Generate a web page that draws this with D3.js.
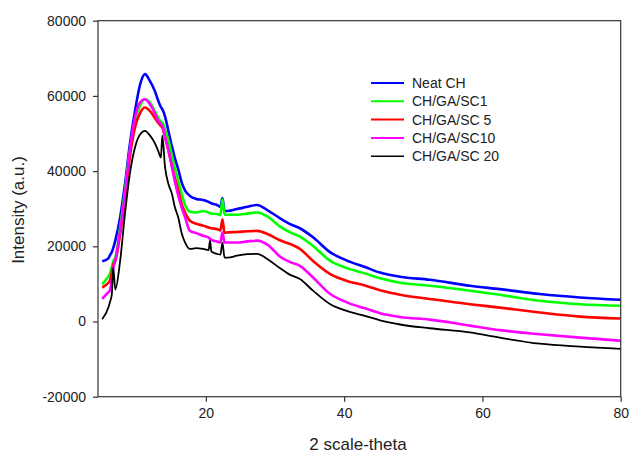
<!DOCTYPE html>
<html>
<head>
<meta charset="utf-8">
<script src="https://cdn.jsdelivr.net/npm/d3@7"></script>
<style>
  body { margin: 0; background: #fff; }
  svg text { font-family: "Liberation Sans", Arial, sans-serif; fill: #222; }
</style>
</head>
<body>
<div id="chart"></div>
<script>

// 2-theta positions shared by every pattern
var theta = [5.0, 5.9, 6.1, 6.4, 6.6, 6.9, 7.6, 8.3, 9.0, 9.75, 10.5, 11.2, 11.9, 12.6, 13.1, 13.5, 13.7, 14.1,
  14.6, 15.1, 15.5, 16.0, 16.5, 17.0, 17.7, 18.6, 19.6, 20.4, 20.6, 20.8, 21.6, 22.1, 22.4, 22.7, 23.2, 24.5,
  26.0, 27.4, 29.0, 30.7, 32.2, 33.6, 35.5, 38.0, 40.4, 43.0, 45.2, 48.1, 52.4, 58.2, 62.5, 68.3, 74.1, 80]

// intensities
var neat_ch = [16000, 16800, 17500, 18500, 19500, 21500, 27700, 36500, 47000, 56000, 63100, 65800, 64000, 61400,
  58800, 57000, 56500, 54500, 50500, 46500, 43600, 40500, 37000, 34800, 33400, 32600, 32300, 31800, 31600, 31400,
  31000, 30500, 32800, 29400, 29400, 29900, 30500, 31000, 29500, 27500, 25900, 24800, 22400, 18400, 16200, 14500,
  13000, 11900, 11100, 9500, 8600, 7300, 6400, 5800]
var sc1 = [9900, 12000, 12600, 14500, 16000, 17000, 25000, 34800, 45400, 53400, 57500, 59100, 58300, 56000, 54300,
  53200, 52900, 51000, 48100, 44000, 41000, 37500, 33900, 31000, 29200, 29000, 29400, 29000, 28800, 28700, 28600,
  28300, 32500, 28400, 28400, 28400, 28700, 29000, 27800, 25300, 23700, 22600, 20100, 16100, 14200, 12800, 11500,
  10300, 9500, 8200, 7100, 5500, 4600, 4200]
var sc5 = [9000, 10300, 10800, 13000, 15000, 16100, 23200, 32100, 43600, 51600, 55500, 56900, 56000, 54200, 52900,
  52000, 51600, 49000, 45400, 41300, 38300, 35000, 31200, 29000, 26800, 26000, 25500, 25000, 24900, 24800, 24600,
  24200, 27200, 23600, 23700, 23800, 24000, 24100, 23200, 21600, 20600, 19300, 16100, 12600, 10800, 9600, 8300,
  7100, 6000, 4600, 3700, 2400, 1300, 800]
var sc10 = [6000, 7800, 8200, 11000, 14000, 16100, 24100, 33900, 45400, 54300, 58300, 59100, 57800, 55500, 53400,
  52500, 52100, 49000, 45400, 41000, 37400, 33500, 30300, 27700, 24100, 23500, 22800, 22300, 22000, 21700, 21300,
  21000, 23700, 21000, 21000, 21000, 21300, 21500, 20300, 17300, 15800, 14800, 11700, 7300, 5100, 3500, 2200,
  1200, 500, -1100, -2300, -3400, -4300, -5100]
var sc20 = [600, 3700, 5000, 7300, 14400, 8500, 16100, 28600, 39200, 46300, 49800, 50700, 49500, 47500, 45400,
  43600, 49400, 41000, 36500, 33900, 30500, 27700, 23500, 21000, 19300, 19500, 19300, 19000, 21500, 18600, 18000,
  17800, 21000, 17000, 17000, 17500, 17900, 18000, 16500, 14200, 12400, 11300, 8200, 4600, 2800, 1500, 300,
  -800, -1800, -2900, -4300, -5900, -6700, -7300]

var series_names = ["Neat CH", "CH/GA/SC1", "CH/GA/SC 5", "CH/GA/SC10", "CH/GA/SC 20"]
var series_values = [neat_ch, sc1, sc5, sc10, sc20]
var series_colors = ["#0000ff", "#00ff00", "#ff0000", "#ff00ff", "#000000"]

var x_ticks = [20, 40, 60, 80]
var y_ticks = [-20000, 0, 20000, 40000, 60000, 80000]


// sizes of the figure
var width = 630
var height = 457
var margin = {top: 20.7, right: 9.3, bottom: 60.3, left: 98}
var plot_w = width - margin.left - margin.right
var plot_h = height - margin.top - margin.bottom

var svg = d3.select("#chart").append("svg")
  .attr("width", width)
  .attr("height", height)

var g = svg.append("g")
  .attr("transform", "translate(" + margin.left + "," + margin.top + ")")

// scales
var x = d3.scaleLinear().domain([4.4, 80]).range([0, plot_w])
var y = d3.scaleLinear().domain([-20000, 80000]).range([plot_h, 0])

// lines of the patterns
var line = d3.line()
  .x(function(d){ return x(d[0]) })
  .y(function(d){ return y(d[1]) })
  .curve(d3.curveMonotoneX)

series_values.forEach(function(vals, i){
  g.append("path")
    .datum(theta.map(function(t, j){ return [t, vals[j]] }))
    .attr("fill", "none")
    .attr("stroke", series_colors[i])
    .attr("stroke-width", i == 4 ? 1.8 : 2.6)
    .attr("stroke-linejoin", "round")
    .attr("d", line)
})

// frame around the plot
g.append("rect")
  .attr("width", plot_w)
  .attr("height", plot_h)
  .attr("fill", "none")
  .attr("stroke", "#333")
  .attr("stroke-width", 1.2)

// axes
var x_axis = g.append("g")
  .attr("transform", "translate(0," + plot_h + ")")
  .call(d3.axisBottom(x).tickValues(x_ticks).tickSize(5).tickPadding(6))

// plain hyphen for negative numbers, like the original
var y_axis = g.append("g")
  .call(d3.axisLeft(y).tickValues(y_ticks).tickSize(5).tickPadding(7)
    .tickFormat(function(d){ return d.toString() }))

svg.selectAll(".domain").remove()
svg.selectAll(".tick line").attr("stroke", "#333").attr("stroke-width", 1.2)
svg.selectAll(".tick text").style("font-size", "14px").attr("fill", "#222")

// axis titles
svg.append("text")
  .attr("x", margin.left + x(42))
  .attr("y", 450)
  .attr("text-anchor", "middle")
  .style("font-size", "17px")
  .text("2 scale-theta")

svg.append("text")
  .attr("transform", "translate(24,210) rotate(-90)")
  .attr("text-anchor", "middle")
  .style("font-size", "17px")
  .text("Intensity (a.u.)")

// legend
var legend = svg.append("g")
  .attr("transform", "translate(371,83)")

series_names.forEach(function(name, i){
  legend.append("line")
    .attr("x1", 0).attr("x2", 33)
    .attr("y1", i * 18.3).attr("y2", i * 18.3)
    .attr("stroke", series_colors[i])
    .attr("stroke-width", i == 4 ? 1.6 : 2)
  legend.append("text")
    .attr("x", 41)
    .attr("y", i * 18.3 + 5)
    .style("font-size", "14px")
    .text(name)
})

</script>
</body>
</html>
